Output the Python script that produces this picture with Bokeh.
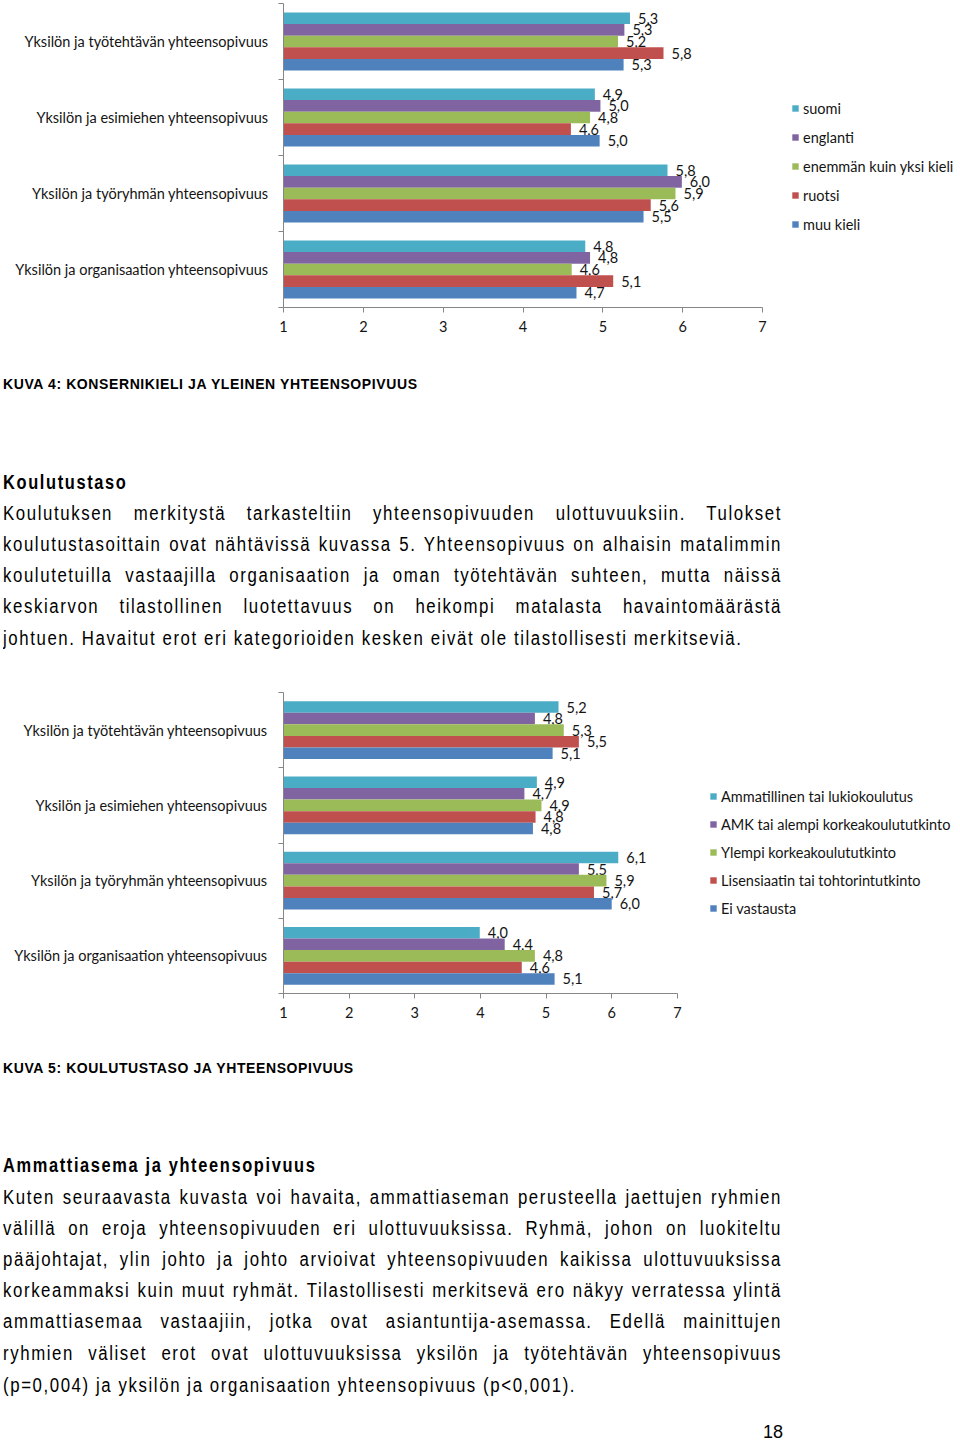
from bokeh.plotting import figure
from bokeh.models import Range1d, FixedTicker, Legend, LegendItem, Div, ColumnDataSource
from bokeh.layouts import column
from bokeh.embed import file_html
from bokeh.resources import INLINE
from bokeh.core.properties import value

# ---------------- data ----------------
categories = [
    "Yksilön ja työtehtävän yhteensopivuus",
    "Yksilön ja esimiehen yhteensopivuus",
    "Yksilön ja työryhmän yhteensopivuus",
    "Yksilön ja organisaation yhteensopivuus",
]
x_ticks = [1, 2, 3, 4, 5, 6, 7]

# Chart 1: konsernikieli
lang_names = ["suomi", "englanti", "enemmän kuin yksi kieli", "ruotsi", "muu kieli"]
lang_suomi = [5.34, 4.90, 5.81, 4.78]
lang_englanti = [5.27, 4.97, 5.99, 4.84]
lang_useampi = [5.19, 4.84, 5.91, 4.61]
lang_ruotsi = [5.76, 4.60, 5.60, 5.13]
lang_muu = [5.26, 4.96, 5.51, 4.67]

# Chart 2: koulutustaso
edu_names = ["Ammatillinen tai lukiokoulutus", "AMK tai alempi korkeakoulututkinto",
             "Ylempi korkeakoulututkinto", "Lisensiaatin tai tohtorintutkinto", "Ei vastausta"]
edu_ammatillinen = [5.19, 4.86, 6.10, 3.99]
edu_amk = [4.83, 4.67, 5.50, 4.37]
edu_ylempi = [5.27, 4.93, 5.92, 4.83]
edu_lisensiaatti = [5.50, 4.84, 5.73, 4.63]
edu_ei_vastausta = [5.10, 4.80, 6.00, 5.13]

colors = ["#4BACC6", "#8064A2", "#9BBB59", "#C0504D", "#4F81BD"]

CHART_FONT = "Lato"
CHART_FS = "14.5px"
AXIS_COLOR = "#868686"
TEXT_COLOR = "#141414"
W = 960
LEG_H = 18


def build_chart(names, series, height, top, bottom, frame_left, unit_px, legend_loc, legend_spacing,
                label_standoff=10):
    x_end = 1 + (W - frame_left) / unit_px
    p = figure(width=W, height=height, x_range=Range1d(1, x_end), y_range=Range1d(4, 0),
               output_backend="svg", toolbar_location=None,
               min_border_left=frame_left, min_border_right=0, min_border_top=top, min_border_bottom=bottom)
    p.outline_line_color = None
    p.xgrid.visible = False
    p.ygrid.visible = False
    p.background_fill_color = "white"
    p.border_fill_color = "white"

    bh = 0.153
    items = []
    for j, (name, vals) in enumerate(zip(names, series)):
        ys = [i + 0.5 + (j - 2) * bh for i in range(len(vals))]
        src = ColumnDataSource(dict(
            y=ys, right=vals, left=[1] * len(vals),
            label=[f"{v:.1f}".replace(".", ",") for v in vals]))
        r = p.hbar(y="y", left="left", right="right", height=bh, source=src,
                   fill_color=colors[j], line_color=None)
        p.text(x="right", y="y", text="label", source=src, x_offset=8,
               text_baseline="middle", text_align="left",
               text_font=value(CHART_FONT), text_font_size=CHART_FS, text_color=TEXT_COLOR)
        items.append(LegendItem(label=name, renderers=[r]))

    # x axis
    xa = p.xaxis[0]
    xa.ticker = FixedTicker(ticks=x_ticks)
    xa.bounds = (1, 7)
    xa.axis_line_color = AXIS_COLOR
    xa.major_tick_line_color = AXIS_COLOR
    xa.major_tick_out = 5
    xa.major_tick_in = 0
    xa.minor_tick_line_color = None
    xa.major_label_standoff = 8
    xa.major_label_text_font = CHART_FONT
    xa.major_label_text_font_size = CHART_FS
    xa.major_label_text_color = TEXT_COLOR

    # y axis: labels at category centres, ticks at boundaries
    ya = p.yaxis[0]
    ya.ticker = FixedTicker(ticks=[i + 0.5 for i in range(4)], minor_ticks=[0, 1, 2, 3, 4])
    ya.major_label_overrides = {i + 0.5: c for i, c in enumerate(categories)}
    ya.axis_line_color = AXIS_COLOR
    ya.major_tick_line_color = None
    ya.major_tick_out = 0
    ya.major_tick_in = 0
    ya.minor_tick_line_color = AXIS_COLOR
    ya.minor_tick_out = 5
    ya.minor_tick_in = 0
    ya.major_label_standoff = label_standoff
    ya.major_label_text_font = CHART_FONT
    ya.major_label_text_font_size = CHART_FS
    ya.major_label_text_color = TEXT_COLOR

    leg = Legend(items=items, location=legend_loc)
    leg.border_line_color = None
    leg.background_fill_alpha = 0
    leg.padding = 0
    leg.margin = 0
    leg.spacing = legend_spacing
    leg.glyph_width = 8
    leg.glyph_height = 8
    leg.label_height = LEG_H
    leg.label_standoff = 4
    leg.label_text_font = CHART_FONT
    leg.label_text_font_size = CHART_FS
    leg.label_text_color = TEXT_COLOR
    leg.label_text_baseline = "middle"
    p.add_layout(leg)
    return p


# chart 1: page y 0..350, frame y 3..307, x 283 (=1) .. 762 (=7)
fig1 = build_chart(lang_names, [lang_suomi, lang_englanti, lang_useampi, lang_ruotsi, lang_muu],
                   height=350, top=3, bottom=43, frame_left=283, unit_px=(762 - 283) / 6,
                   legend_loc=(508, 307 - 99 - (5 * LEG_H + 4 * 11)), legend_spacing=11)

# chart 2: page y 684..1035, frame y 692..993, x 281 (=1) .. 676 (=7)
fig2 = build_chart(edu_names, [edu_ammatillinen, edu_amk, edu_ylempi, edu_lisensiaatti, edu_ei_vastausta],
                   height=351, top=8, bottom=42, frame_left=281, unit_px=(676 - 281) / 6,
                   legend_loc=(426, 993 - 787 - (5 * LEG_H + 4 * 10)), legend_spacing=10,
                   label_standoff=11)

BODY_FONT = "'Liberation Sans', Arial, sans-serif"
SX = 0.84
TEXT_LEFT = 3
TEXT_W = 779


def line(text, center, justify=True):
    align = "text-align:justify;text-align-last:justify;" if justify else "text-align:left;"
    return (f'<div style="position:absolute;left:{TEXT_LEFT}px;top:{center - 15.5}px;width:{TEXT_W / SX:.1f}px;'
            f'height:31px;line-height:31px;overflow:hidden;{align}font-family:{BODY_FONT};font-size:20px;'
            f'letter-spacing:1.9px;transform:scaleX({SX});transform-origin:0 0;color:#000;">{text}</div>')


def caption(text, center):
    return (f'<div style="position:absolute;left:{TEXT_LEFT}px;top:{center - 10}px;height:20px;line-height:20px;'
            f"white-space:nowrap;font-family:'Liberation Sans',sans-serif;font-weight:bold;font-size:14px;"
            f'letter-spacing:0.6px;color:#000;">{text}</div>')


def heading(text, center):
    return (f'<div style="position:absolute;left:{TEXT_LEFT}px;top:{center - 12}px;height:24px;line-height:24px;'
            f'white-space:nowrap;font-family:{BODY_FONT};font-weight:bold;font-size:20px;letter-spacing:2.0px;'
            f'transform:scaleX(0.82);transform-origin:0 0;color:#000;">{text}</div>')


para1 = [
    "Koulutuksen merkitystä tarkasteltiin yhteensopivuuden ulottuvuuksiin. Tulokset",
    "koulutustasoittain ovat nähtävissä kuvassa 5. Yhteensopivuus on alhaisin matalimmin",
    "koulutetuilla vastaajilla organisaation ja oman työtehtävän suhteen, mutta näissä",
    "keskiarvon tilastollinen luotettavuus on heikompi matalasta havaintomäärästä",
    "johtuen. Havaitut erot eri kategorioiden kesken eivät ole tilastollisesti merkitseviä.",
]
para2 = [
    "Kuten seuraavasta kuvasta voi havaita, ammattiaseman perusteella jaettujen ryhmien",
    "välillä on eroja yhteensopivuuden eri ulottuvuuksissa. Ryhmä, johon on luokiteltu",
    "pääjohtajat, ylin johto ja johto arvioivat yhteensopivuuden kaikissa ulottuvuuksissa",
    "korkeammaksi kuin muut ryhmät. Tilastollisesti merkitsevä ero näkyy verratessa ylintä",
    "ammattiasemaa vastaajiin, jotka ovat asiantuntija-asemassa. Edellä mainittujen",
    "ryhmien väliset erot ovat ulottuvuuksissa yksilön ja työtehtävän yhteensopivuus",
    "(p=0,004) ja yksilön ja organisaation yhteensopivuus (p&lt;0,001).",
]

# Div 1: page y 350..684
h1 = [caption("KUVA 4: KONSERNIKIELI JA YLEINEN YHTEENSOPIVUUS", 34),
      heading("Koulutustaso", 132)]
for k, t in enumerate(para1):
    h1.append(line(t, [163, 194, 225, 256, 288][k], justify=(k < len(para1) - 1)))
div1 = Div(text=f'<div style="position:relative;width:{W}px;height:334px;overflow:hidden;">' + "".join(h1) + "</div>",
           width=W, height=334, margin=0)

# Div 2: page y 1035..1444
h2 = [caption("KUVA 5: KOULUTUSTASO JA YHTEENSOPIVUUS", 33),
      heading("Ammattiasema ja yhteensopivuus", 130)]
for k, t in enumerate(para2):
    h2.append(line(t, [162, 193, 224, 255, 286, 318, 350][k], justify=(k < len(para2) - 1)))
h2.append(f'<div style="position:absolute;left:763px;top:388px;height:18px;line-height:18px;'
          f"font-family:'Liberation Sans',sans-serif;font-size:18px;color:#000;\">18</div>")
div2 = Div(text=f'<div style="position:relative;width:{W}px;height:408px;overflow:hidden;">' + "".join(h2) + "</div>",
           width=W, height=408, margin=0)

page = column(fig1, div1, fig2, div2, spacing=0)

open("out.html", "w").write(file_html(page, INLINE))
